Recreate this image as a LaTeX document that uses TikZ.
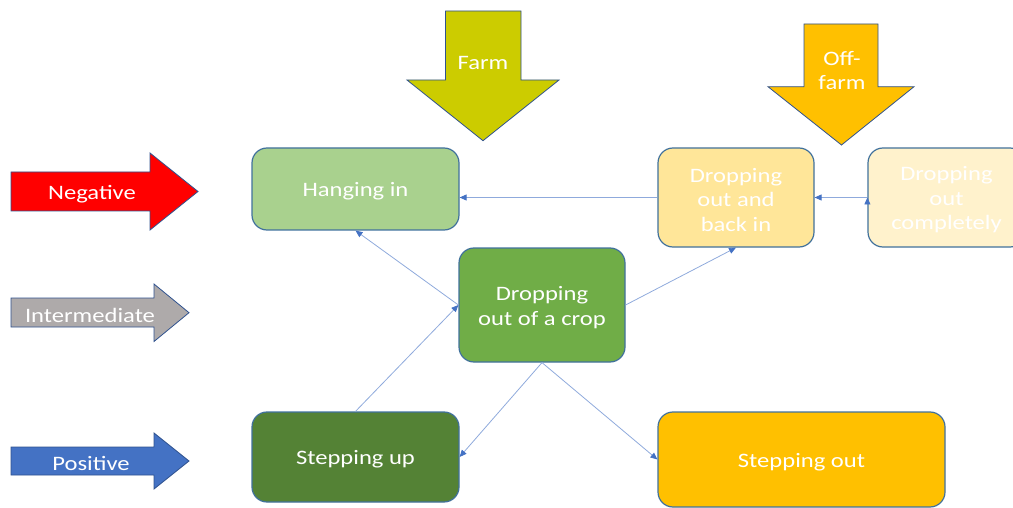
\documentclass[tikz,border=0pt]{standalone}
\usepackage{fontspec}
\setmainfont{Carlito}[FakeStretch=1.2]
\usepackage{xcolor}
\definecolor{hanggreen}{RGB}{169,209,142}
\definecolor{cropgreen}{RGB}{112,173,71}
\definecolor{stepgreen}{RGB}{84,130,53}
\definecolor{backyellow}{RGB}{255,230,153}
\definecolor{quityellow}{RGB}{255,242,204}
\definecolor{mygold}{RGB}{255,192,0}
\definecolor{farmolive}{RGB}{204,204,0}
\definecolor{mygray}{RGB}{174,170,170}
\definecolor{myblue}{RGB}{68,114,196}
\definecolor{arrowedge}{RGB}{47,82,143}
\definecolor{boxedge}{RGB}{65,113,156}
\definecolor{linkblue}{RGB}{143,170,220}
\usepackage{tikz}
\usetikzlibrary{arrows.meta}
\newcommand{\labelfont}{\fontsize{20.5}{24.5}\selectfont}
\newcommand{\tallline}{\rule{0pt}{19pt}}
\newcommand{\heightbox}{90pt}
\tikzset{
    common/.style={text=white, font=\labelfont, align=center, inner sep=0pt, execute at begin node={\tallline}},
    state/.style={common, draw=boxedge, line width=1.2pt, rectangle, rounded corners=15pt, minimum height=\heightbox},
    blockarrow/.style={draw=arrowedge, line width=0.8pt, line join=miter},
    link/.style={draw=linkblue, line width=0.8pt, -{Triangle[length=7pt, width=6pt, color=myblue]}}
}
\begin{document}
\begin{tikzpicture}[x=1pt, y=-1pt]
                \clip (0,0) rectangle (1013,508);

                \draw[blockarrow, fill=red]
                  (11,172) -- (150,172) -- (150,153) -- (198,191.5) -- (150,230) -- (150,211) -- (11,211) -- cycle;
                \draw[blockarrow, fill=mygray]
                  (11,298) -- (154,298) -- (154,284) -- (189,312.7) -- (154,341.5) -- (154,327) -- (11,327) -- cycle;
                \draw[blockarrow, fill=myblue]
                  (11,447) -- (154,447) -- (154,433) -- (189,461) -- (154,489) -- (154,475) -- (11,475) -- cycle;
                \draw[blockarrow, fill=farmolive]
                  (445.5,11) -- (521,11) -- (521,80) -- (559,80) -- (483,140.7) -- (407,80) -- (445.5,80) -- cycle;
                \draw[blockarrow, fill=mygold]
                  (804,24) -- (878,24) -- (878,86.7) -- (914,86.7) -- (841.5,145) -- (768,86.7) -- (804,86.7) -- cycle;

                \path
                    node[common] (neg) at (92,191.5) {Negative}
                    node[common] (mid) at (90,312.7) {Intermediate}
                    node[common] (pos) at (91,461) {Positive}
                    node[common] (farm) at (483,60) {Farm}
                    node[common] (offfarm) at (842,68) {\tallline Off-\\farm};

                \path
                    node[state, fill=hanggreen, minimum width=207pt, minimum height=82pt] (hang) at (355.5,189) {Hanging in}
                    node[state, fill=backyellow, minimum width=156pt, minimum height=99pt] (backin) at (736,197.5) {\tallline Dropping\\out and\\back in}
                    node[state, fill=quityellow, minimum width=157pt, minimum height=99pt] (quit) at (946.5,197.5) {\tallline Dropping\\out\\completely}
                    node[state, fill=cropgreen, minimum width=166pt, minimum height=114pt] (crop) at (542,305) {\tallline Dropping\\out of a crop}
                    node[state, fill=stepgreen, minimum width=207pt] (stepup) at (355.5,457) {Stepping up}
                    node[state, fill=mygold, minimum width=287pt, minimum height=95pt] (stepout) at (801.5,459.5) {Stepping out};

                \draw[link]
                  (crop.west) edge (hang.south)
                  (stepup.north) edge (crop.west)
                  (crop.south) edge (stepup.east)
                  (crop.south) edge (stepout.west)
                  (crop.east) edge (backin.south)
                  (backin.west) edge (backin.west -| hang.east)
                  (quit.west) edge (backin.east);
\end{tikzpicture}
\end{document}
